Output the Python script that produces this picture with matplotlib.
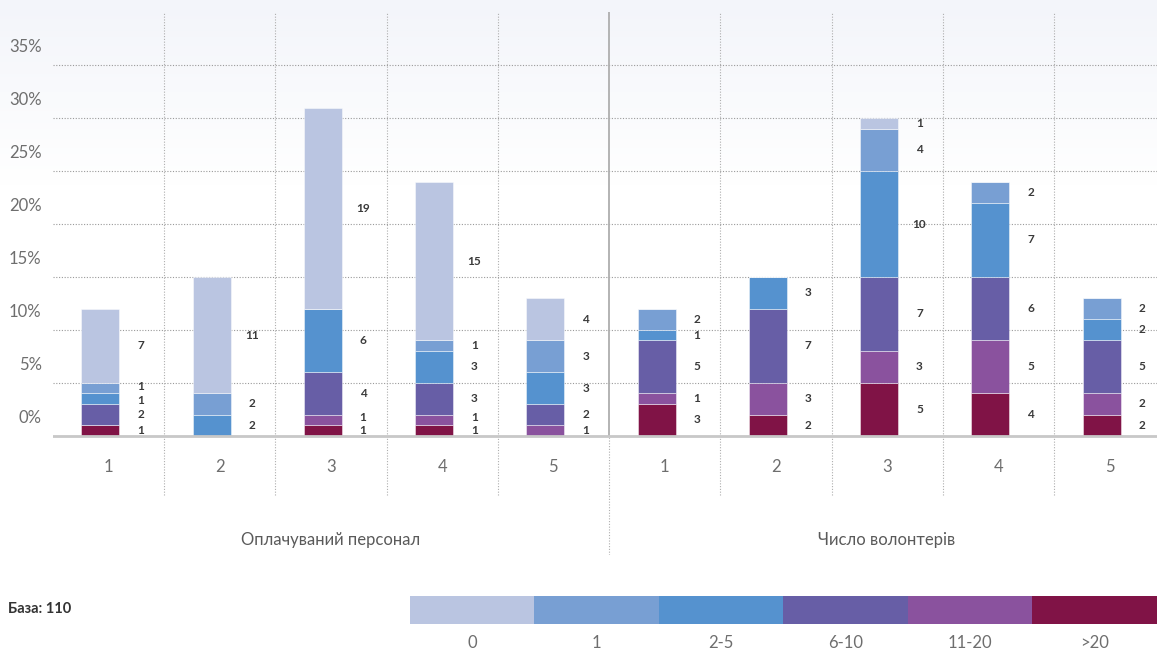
import numpy as np
import matplotlib
matplotlib.use('Agg')
import matplotlib.pyplot as plt
from matplotlib.colors import LinearSegmentedColormap

plt.rcParams['font.family'] = ['Lato', 'DejaVu Sans']

# Категорії (знизу вгору в стовпчику)
categories = ['>20', '11-20', '6-10', '2-5', '1', '0']
colors = ['#801346', '#8A529E', '#675EA6', '#5592CF', '#789FD3', '#BAC5E1']
legend_order = ['0', '1', '2-5', '6-10', '11-20', '>20']

groups = ['Оплачуваний персонал', 'Число волонтерів']
tick_labels = ['1', '2', '3', '4', '5']

# Кількості по категоріях: >20, 11-20, 6-10, 2-5, 1, 0
paid = [
    [1, 0, 2, 1, 1, 7],
    [0, 0, 0, 2, 2, 11],
    [1, 1, 4, 6, 0, 19],
    [1, 1, 3, 3, 1, 15],
    [0, 1, 2, 3, 3, 4],
]
volunteers = [
    [3, 1, 5, 1, 2, 0],
    [2, 3, 7, 3, 0, 0],
    [5, 3, 7, 10, 4, 1],
    [4, 5, 6, 7, 2, 0],
    [2, 2, 5, 2, 2, 0],
]
yticks = [0, 5, 10, 15, 20, 25, 30, 35]
base_text = 'База: 110'

data = np.array(paid + volunteers, dtype=float)

W, H = 1157, 655
fig = plt.figure(figsize=(W / 100, H / 100), dpi=100)

# фон з легким градієнтом
bg = fig.add_axes([0, 0, 1, 1])
cmap = LinearSegmentedColormap.from_list('bg', ['#F3F5FA', '#FFFFFF'])
grad = np.linspace(0, 1, 256).reshape(-1, 1)
bg.imshow(grad, aspect='auto', cmap=cmap, extent=[0, 1, 470 / H, 1], origin='upper')
bg.set_xlim(0, 1)
bg.set_ylim(0, 1)
bg.axis('off')

# основна вісь
left, top, bottom = 52.75, 12, 555
ax = fig.add_axes([left / W, 1 - bottom / H, (W - left) / W, (bottom - top) / H])
ax.patch.set_alpha(0)
px = 10.583  # пікселів на 1%
ax.set_ylim(-(bottom - 435.7) / px, (435.7 - top) / px)
ax.set_xlim(-0.5, -0.5 + (W - left) / 111.25)
ax.axis('off')

txt = dict(fontsize=12, color='#6E6E6E')

# сітка
for v in yticks[1:]:
    ax.axhline(v, color='#9A9A9A', lw=0.8, ls=(0, (1, 1.5)), zorder=1)
for v in yticks:
    ax.text(-0.6, v + 1.7, f'{v}%', ha='right', va='center', clip_on=False, **txt)

y_low = -(495 - 435.7) / px
for k in range(9):
    xb = k + 0.5
    if k == 4:
        ax.plot([xb, xb], [0, 40], color='#AEAEAE', lw=1.3, zorder=1)
        ax.plot([xb, xb], [ax.get_ylim()[0], 0], color='#AEAEAE', lw=0.8, ls=(0, (1, 1.5)), zorder=1)
    else:
        ax.plot([xb, xb], [y_low, 40], color='#AEAEAE', lw=0.8, ls=(0, (1, 1.5)), zorder=1)

# стовпчики
xs = np.arange(len(data))
bottoms = np.zeros(len(data))
for j, cat in enumerate(categories):
    ax.bar(xs - 0.072, data[:, j], width=0.34, bottom=bottoms, color=colors[j],
           edgecolor=(1, 1, 1, 0.45), linewidth=0.7, zorder=3)
    bottoms += data[:, j]

ax.axhline(0, color='#C8C8C8', lw=2, zorder=4)

# підписи значень
for i in range(len(data)):
    cum = np.concatenate([[0], np.cumsum(data[i])])
    pos = [(cum[j] + cum[j + 1]) / 2 for j in range(6) if data[i, j] > 0]
    vals = [int(data[i, j]) for j in range(6) if data[i, j] > 0]
    gap = 1.3
    for _ in range(50):
        for a in range(len(pos) - 1):
            d = pos[a + 1] - pos[a]
            if d < gap:
                shift = (gap - d) / 2
                pos[a] -= shift
                pos[a + 1] += shift
        pos[0] = max(pos[0], 0.45)
    for p, v in zip(pos, vals):
        ax.text(i + 0.29, p, str(v), ha='center', va='center', fontsize=8.5,
                fontweight='bold', color='#3A3A3A', zorder=5)

# підписи категорій та груп
for i in range(len(data)):
    ax.text(i, -(467 - 435.7) / px, tick_labels[i % 5], ha='center', va='center', **txt)
for g, name in enumerate(groups):
    ax.text(2 + g * 5, -(540 - 435.7) / px, name, ha='center', va='center',
            fontsize=12, color='#5A5A5A')

# легенда
lx0, ly0, ly1 = 409.6, 595.7, 623.7
lax = fig.add_axes([lx0 / W, 1 - ly1 / H, (W - lx0) / W, (ly1 - ly0) / H])
leg_colors = colors[::-1]
lax.bar(range(6), [1] * 6, width=1, color=leg_colors)
lax.set_xlim(-0.5, 5.5)
lax.set_ylim(0, 1)
lax.axis('off')
for i, lab in enumerate(legend_order):
    lax.text(i, -(643 - ly1) / (ly1 - ly0), lab, ha='center', va='center',
             clip_on=False, **txt)

fig.text(8 / W, 1 - 609 / H, base_text, ha='left', va='center', fontsize=10.5,
         fontweight='bold', color='#333333')

fig.savefig('out.png', dpi=100)
